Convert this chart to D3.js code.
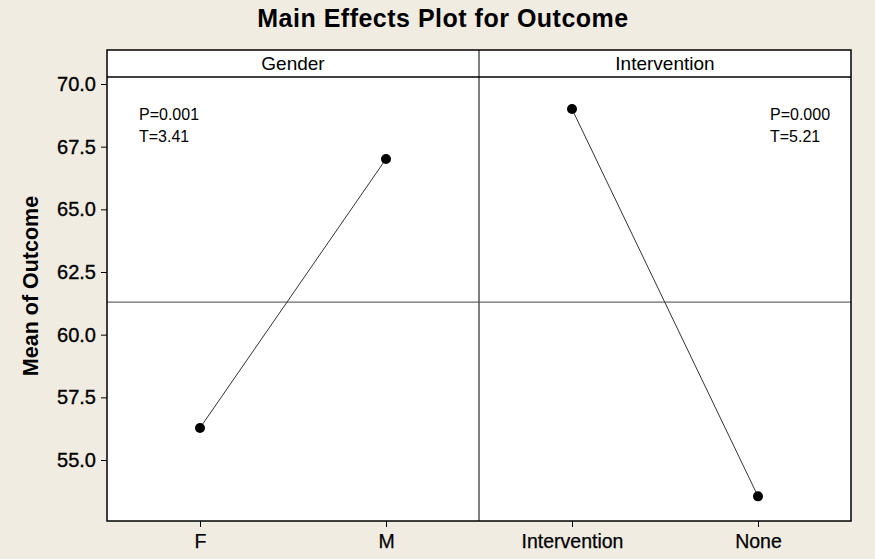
<!DOCTYPE html>
<html><head><meta charset="utf-8">
<script src="https://cdn.jsdelivr.net/npm/d3@7/dist/d3.min.js"></script>
<style>
html,body{margin:0;padding:0;background:#f0ece2;}
svg{display:block;}
text{font-family:"Liberation Sans",Arial,sans-serif;fill:#000;}
</style></head>
<body><svg id="c" width="875" height="559"></svg>
<script>
// ---- data ----
const panels = ["Gender", "Intervention"];
const genderLevels = ["F", "M"];
const genderMeans = [56.28, 67.01];
const interventionLevels = ["Intervention", "None"];
const interventionMeans = [69.0, 53.55];
const grandMean = 61.3;
const yTicks = [55.0, 57.5, 60.0, 62.5, 65.0, 67.5, 70.0];
const pValues = ["P=0.001", "P=0.000"];
const tValues = ["T=3.41", "T=5.21"];

const panelData = [
  {name: panels[0], levels: genderLevels, means: genderMeans, p: pValues[0], t: tValues[0], annot: "left"},
  {name: panels[1], levels: interventionLevels, means: interventionMeans, p: pValues[1], t: tValues[1], annot: "right"}
];

// ---- layout ----
const svg = d3.select("#c");
const L = 107, R = 851, T = 50, HB = 77, B = 521;
const y = d3.scaleLinear().domain([55, 70]).range([460, 84]);
const px = d3.scaleBand().domain(panels).range([L, R]);

// title
svg.append("text").attr("x", 443).attr("y", 27).attr("text-anchor", "middle")
  .style("font-weight", "bold").style("font-size", "25px").style("letter-spacing", "0.5px")
  .text("Main Effects Plot for Outcome");

// y label
svg.append("text").attr("transform", "translate(38,286) rotate(-90)").attr("text-anchor", "middle")
  .style("font-weight", "bold").style("font-size", "21.5px").text("Mean of Outcome");

// plot background
svg.append("rect").attr("x", L).attr("y", T).attr("width", R - L).attr("height", B - T).attr("fill", "#fff");

// reference line
svg.append("line").attr("x1", L).attr("x2", R).attr("y1", y(grandMean)).attr("y2", y(grandMean))
  .attr("stroke", "#444").attr("stroke-width", 1);

// y axis
const yAxis = svg.append("g").attr("transform", `translate(${L},0)`)
  .call(d3.axisLeft(y).tickValues(yTicks).tickFormat(d3.format(".1f")).tickSize(6).tickPadding(5));
yAxis.select(".domain").remove();
yAxis.selectAll(".tick line").attr("stroke", "#000");
yAxis.selectAll(".tick text").style("font-size", "20px").style("font-family", '"Liberation Sans",Arial,sans-serif')
  .attr("fill", "#000").attr("stroke", "#000").attr("stroke-width", 0.35);

panelData.forEach(pd => {
  const x0 = px(pd.name), x1 = x0 + px.bandwidth();
  const x = d3.scalePoint().domain(pd.levels).range([x0, x1]).padding(0.5);
  // header label
  svg.append("text").attr("x", (x0 + x1) / 2).attr("y", 70).attr("text-anchor", "middle")
    .style("font-size", "19px").text(pd.name);
  // x axis
  const xa = svg.append("g").attr("transform", `translate(0,${B})`)
    .call(d3.axisBottom(x).tickSize(6).tickPadding(7));
  xa.select(".domain").remove();
  xa.selectAll(".tick line").attr("stroke", "#000");
  xa.selectAll(".tick text").style("font-size", "19.5px").style("font-family", '"Liberation Sans",Arial,sans-serif')
    .attr("fill", "#000").attr("stroke", "#000").attr("stroke-width", 0.25);
  // line
  const pts = pd.levels.map((l, i) => [x(l), y(pd.means[i])]);
  svg.append("path").attr("d", d3.line()(pts)).attr("fill", "none").attr("stroke", "#333").attr("stroke-width", 1);
  svg.selectAll(null).data(pts).enter().append("circle")
    .attr("cx", d => d[0]).attr("cy", d => d[1]).attr("r", 5).attr("fill", "#000");
  // annotations
  const ax = pd.annot === "left" ? x0 + 32 : x1 - 81;
  svg.append("text").attr("x", ax).attr("y", 120).style("font-size", "16px").text(pd.p);
  svg.append("text").attr("x", ax).attr("y", 142).style("font-size", "16px").text(pd.t);
});

// divider
svg.append("line").attr("x1", px(panels[1])).attr("x2", px(panels[1])).attr("y1", T).attr("y2", B)
  .attr("stroke", "#555").attr("stroke-width", 1.5);
// header bottom line
svg.append("line").attr("x1", L).attr("x2", R).attr("y1", HB).attr("y2", HB).attr("stroke", "#000").attr("stroke-width", 1.5);
// border
svg.append("rect").attr("x", L).attr("y", T).attr("width", R - L).attr("height", B - T)
  .attr("fill", "none").attr("stroke", "#000").attr("stroke-width", 1.5);
</script></body></html>
